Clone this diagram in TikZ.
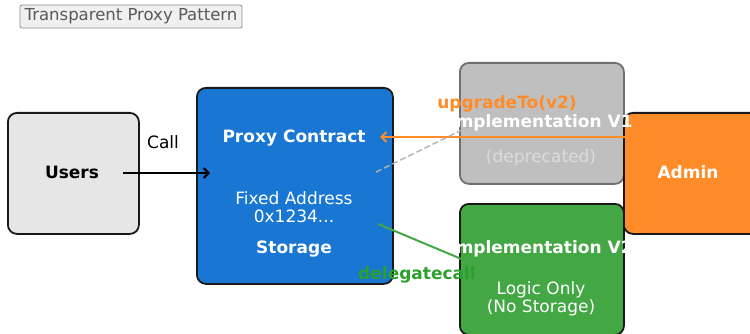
\documentclass[tikz,border=0pt]{standalone}
\usepackage{fontspec}
\setmainfont{DejaVu Sans}
\usetikzlibrary{positioning,arrows.meta}
\definecolor{proxyblue}{HTML}{1976D2}
\definecolor{oldgray}{HTML}{BFBFBF}
\definecolor{oldedge}{HTML}{707070}
\definecolor{adminorange}{HTML}{FF8C28}
\definecolor{logicgreen}{HTML}{43A843}
\definecolor{delgreen}{HTML}{2CA02C}
\definecolor{deptext}{HTML}{DCDCDC}
\definecolor{usergray}{HTML}{E6E6E6}
\tikzstyle{cbox}=[draw=black!90,line width=1.8pt,rounded corners=9pt,anchor=north west,inner sep=0pt]
\tikzstyle{txt}=[inner sep=0pt,font=\fontsize{17}{18.5}\selectfont,align=center]
\tikzstyle{btxt}=[txt,font=\fontsize{17}{18.5}\selectfont\bfseries]
\tikzstyle{flow}=[line width=2pt,->,>={Straight Barb[length=5pt,width=10pt]}]

\begin{document}
\begin{tikzpicture}[x=1pt,y=-1pt]
  \useasboundingbox (0,0) rectangle (750,334);
  % title
  \node (title)[draw=black!45,fill=black!6,rounded corners=2pt,line width=0.8pt,
    minimum width=222pt,minimum height=23pt,inner sep=0pt,
    text=black!65,font=\fontsize{16.5}{18}\selectfont] at (131,16.5) {Transparent Proxy Pattern};

  % boxes
  \node (users)[cbox,fill=usergray,minimum width=131pt,minimum height=121pt] at (7,112) {};
  \node (proxy)[cbox,fill=proxyblue,minimum width=196pt,minimum height=196pt] at (196,87) {};
  \node (implA)[cbox,draw=oldedge,fill=oldgray,minimum width=164pt,minimum height=121pt] at (459,62) {};
  \node (admin)[cbox,fill=adminorange,minimum width=140pt,minimum height=121pt] at (623,112) {};
  \node (implB)[cbox,fill=logicgreen,minimum width=164pt,minimum height=131pt] at (459,203) {};

  % box texts
  \node (usersT)[btxt] at (72,172) {Users};
  \node (proxyT)[btxt,text=white] at (294,138) {Proxy Contract};
  \node (addrT)[txt,text=white] at (294,207) {Fixed Address\\0x1234...};
  \node (storeT)[btxt,text=white] at (294,249) {Storage};
  \node (implAT)[btxt,text=white] at (541,123) {Implementation V1};
  \node (depT)[txt,text=deptext] at (541,158) {(deprecated)};
  \node (adminT)[btxt,text=white] at (688,172) {Admin};
  \node (implBT)[btxt,text=white] at (541,249) {Implementation V2};
  \node (logicT)[txt,text=white] at (541,299) {Logic Only\\(No Storage)};

  % connector ends
  \coordinate (callS) at (123,173);
  \coordinate (callE) at (210,173);
  \coordinate (upS) at (638,137);
  \coordinate (upE) at (380,137);
  \coordinate (oldS) at (376,172);
  \coordinate (oldE) at (468,127);
  \coordinate (delS) at (378,224);
  \coordinate (delE) at (471,263);

  \draw[flow,black] (callS) -- (callE);
  \node (callL)[txt] at (163,142) {Call};
  \draw[flow,adminorange] (upS) -- (upE);
  \node (upL)[btxt,text=adminorange] at (507,104) {upgradeTo(v2)};
  \draw[line width=1.4pt,black!30,dash pattern=on 6pt off 3pt] (oldS) -- (oldE);
  \draw[flow,logicgreen] (delS) -- (delE);
  \node (delL)[btxt,text=delgreen] at (417,275) {delegatecall};
\end{tikzpicture}
\end{document}
